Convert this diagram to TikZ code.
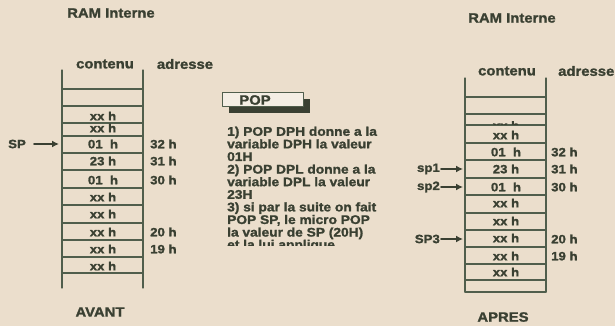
\documentclass[tikz,border=0pt]{standalone}
\usepackage{fontspec}
\setmainfont{Liberation Sans}[FakeStretch=1.1,BoldFeatures={FakeBold=1.5}]
\usetikzlibrary{arrows.meta,shadows}
\definecolor{paper}{RGB}{235,222,204}
\definecolor{ink}{RGB}{58,64,50}
\definecolor{rule}{RGB}{80,94,76}
\definecolor{boxfill}{RGB}{244,238,228}

\begin{document}
\begin{tikzpicture}[x=1pt,y=-1pt,line cap=round,line join=round,
    cell/.style={text=ink,font=\bfseries\fontsize{12}{12}\selectfont,inner sep=0pt},
    addr/.style={cell,anchor=west},
    head/.style={text=ink,font=\bfseries\fontsize{13.5}{14}\selectfont,inner sep=0pt},
    pointer/.style={-{Latex[length=7pt,width=7pt]},line width=2pt,draw=ink},
    stackline/.style={line width=1.2pt,draw=rule},
    popbox/.style={draw=rule,fill=boxfill,line width=0.8pt,minimum width=81pt,minimum height=14pt,
        drop shadow={shadow xshift=7pt,shadow yshift=-7pt,fill=ink,opacity=1}}]

    \fill[paper] (0,0) rectangle (615,326);
    \useasboundingbox (0,0) rectangle (615,326);

    % avant
    \node[head] (ram1) at (111,13) {RAM Interne};
    \node[head] (cont1) at (105,64) {contenu};
    \node[head] (adr1) at (185,64) {adresse};
    \draw[stackline] (62,70) -- (62,288);
    \draw[stackline] (143,70) -- (143,288);
    \foreach \y in {89,106,123,136,153,170,188,205,223,240,257,273}
        \draw[stackline] (62,\y) -- (143,\y);
    \foreach \y/\t [count=\i] in {116/xx h,128/xx h,144/01\ \ h,161/23 h,180/01\ \ h,197/xx h,214/xx h,232/xx h,249/xx h,266/xx h}
        \node[cell] (a\i) at (103,\y) {\t};
    \node[addr] (a32) at (150,144) {32 h};
    \node[addr] (a31) at (150,161) {31 h};
    \node[addr] (a30) at (150,180) {30 h};
    \node[addr] (a20) at (150,232) {20 h};
    \node[addr] (a19) at (150,249) {19 h};
    \node[cell,anchor=west] (sp) at (8,144) {SP};
    \coordinate (sptip) at (59,144);
    \draw[pointer,shorten <=8pt] (sp) -- (sptip);
    \node[head] (avant) at (100,312) {AVANT};

    % pop
    \node[popbox] (pop) at (262.5,99) {};
    \node[head] (poptxt) at (255,100) {POP};
    \node[anchor=north west,align=left,text=ink,inner sep=0pt,
        font=\bfseries\fontsize{12.5}{12.6}\selectfont] (steps) at (227,126.5)
        {1) POP DPH donne a la\\variable DPH la valeur\\01H\\2) POP DPL donne a la\\
         variable DPL la valeur\\23H\\3) si par la suite on fait\\POP SP, le micro POP\\
         la valeur de SP (20H)};
    \begin{scope}
        \clip (220,236) rectangle (400,245.5);
        \node[anchor=base west,text=ink,inner sep=0pt,
            font=\bfseries\fontsize{12.5}{12.6}\selectfont] (cut) at (227,248.9) {et la lui applique};
    \end{scope}

    % apres
    \node[head] (ram2) at (512,18) {RAM Interne};
    \node[head] (cont2) at (507,71) {contenu};
    \node[head,anchor=west] (adr2) at (558,71) {adresse};
    \draw[stackline] (465,78) -- (465,292);
    \draw[stackline] (546,78) -- (546,292);
    \foreach \y in {97,114,125,143,160,178,195,213,230,247,264,280,292}
        \draw[stackline] (465,\y) -- (546,\y);
    \begin{scope}
        \clip (465,114) rectangle (546,124.4);
        \node[cell] (b0) at (506,125.5) {xx h};
    \end{scope}
    \foreach \y/\t [count=\i] in {135/xx h,152/01\ \ h,169/23 h,187/01\ \ h,203/xx h,221/xx h,238/xx h,256/xx h,272/xx h}
        \node[cell] (b\i) at (506,\y) {\t};
    \node[addr] (b32) at (551,152) {32 h};
    \node[addr] (b31) at (551,169) {31 h};
    \node[addr] (b30) at (551,187) {30 h};
    \node[addr] (b20) at (551,239) {20 h};
    \node[addr] (b19) at (551,256) {19 h};
    \node[cell,anchor=east] (sp1) at (440,169) {sp1};
    \node[cell,anchor=east] (sp2) at (440,187) {sp2};
    \node[cell,anchor=east] (sp3) at (440,239) {SP3};
    \coordinate (sp1tip) at (463,169);
    \coordinate (sp2tip) at (463,187);
    \coordinate (sp3tip) at (463,239);
    \draw[pointer,shorten <=1pt] (sp1) -- (sp1tip);
    \draw[pointer,shorten <=1pt] (sp2) -- (sp2tip);
    \draw[pointer,shorten <=1pt] (sp3) -- (sp3tip);
    \node[head] (apres) at (503,317) {APRES};
\end{tikzpicture}
\end{document}
